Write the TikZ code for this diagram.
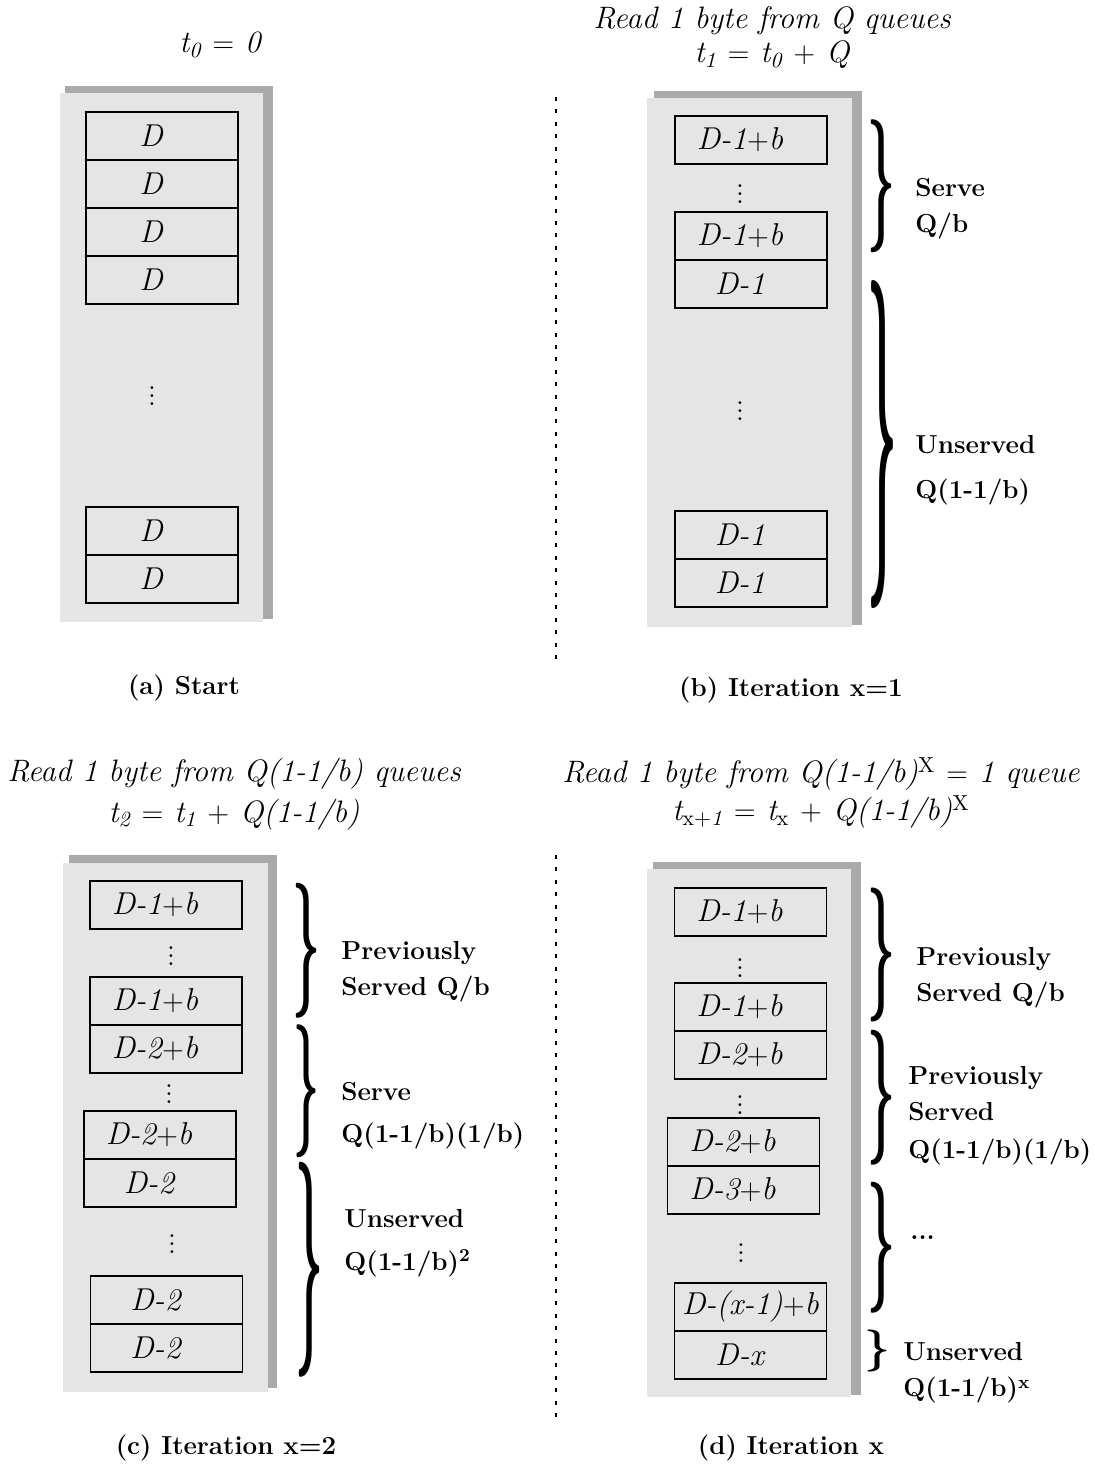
\documentclass[tikz,border=0pt]{standalone}
\usepackage{graphicx}
\usetikzlibrary{positioning}
\definecolor{panelfill}{HTML}{E5E5E5}
\definecolor{panelshade}{HTML}{AAAAAA}
\tikzset{
  panel/.style={fill=panelfill},
  shade/.style={fill=panelshade},
  celltext/.style={inner sep=0pt, font=\itshape\fontsize{15.8}{19}\selectfont},
  cell/.style={draw, line width=0.8pt, minimum width=76pt, minimum height=24pt,
    inner sep=0pt, outer sep=0pt, label={[celltext, xshift=-5.5pt]center:#1}},
  widecell/.style={draw, line width=0.8pt, minimum width=76pt, minimum height=24pt,
    inner sep=0pt, outer sep=0pt, label={[celltext]center:#1}},
  dots/.style={inner sep=0pt, font=\fontsize{14.4}{17}\selectfont},
  curly/.style 2 args={inner sep=0pt, node contents={\resizebox*{#1}{#2}{\boldmath$\}$}}},
  note/.style={anchor=west, align=left, inner sep=0pt, font=\bfseries\fontsize{13}{18}\selectfont},
  heading/.style={align=center, inner sep=0pt, font=\itshape\fontsize{15.5}{17}\selectfont},
  subcap/.style={inner sep=0pt, font=\bfseries\fontsize{13}{15}\selectfont},
  divider/.style={line width=0.9pt, dash pattern=on 2pt off 4.2pt}
}
\begin{document}
\begin{tikzpicture}[x=0.5pt, y=-0.5pt, node distance=0pt]

    \useasboundingbox (0,0) rectangle (1094,1465);

    % (a) Start
    \node[heading] (ha) at (220,45) {t\textsubscript{0} $=$ 0};
    \fill[shade] (65,86) rectangle (273,619);
    \fill[panel] (60,93) rectangle (263,622);
    \node[cell=D, anchor=north] (a1) at (162,112) {};
    \node[cell=D, below=of a1] (a2) {};
    \node[cell=D, below=of a2] (a3) {};
    \node[cell=D, below=of a3] (a4) {};
    \node[dots] (adots) at (152,390) {$\vdots$};
    \node[cell=D, anchor=north] (a5) at (162,507) {};
    \node[cell=D, below=of a5] (a6) {};
    \node[subcap] (capa) at (184,688) {(a) Start};

    % (b) Iteration x=1
    \node[heading] (hb) at (772,38) {Read 1 byte from Q queues\\t\textsubscript{1} $=$ t\textsubscript{0} $+$ Q};
    \fill[shade] (654,91) rectangle (862,625);
    \fill[panel] (647,98) rectangle (852,627);
    \node[cell={D-1$+$b}, anchor=north] (b1) at (751,116) {};
    \node[dots] (bdots1) at (740,188) {$\vdots$};
    \node[cell={D-1$+$b}, anchor=north] (b2) at (751,212) {};
    \node[cell={D-1}, below=of b2] (b3) {};
    \node[dots] (bdots2) at (740,405) {$\vdots$};
    \node[cell={D-1}, anchor=north] (b4) at (751,511) {};
    \node[cell={D-1}, below=of b4] (b5) {};
    \node (bserve) at (881,186.5) [curly={14pt}{66.5pt}];
    \node (bunserved) at (882,444) [curly={15pt}{164pt}];
    \node[note] (nserve) at (915,208.5) {Serve\\Q/b};
    \node[note] (nunserved) at (915,470) {Unserved\\[4.5pt]Q(1-1/b)};
    \node[subcap] (capb) at (791,690) {(b) Iteration x=1};

    % dividers
    \coordinate (dtop1) at (556,97);
    \coordinate (dbot1) at (556,663);
    \coordinate (dtop2) at (556,855);
    \coordinate (dbot2) at (556,1425);
    \draw[divider] (dtop1) -- (dbot1);
    \draw[divider] (dtop2) -- (dbot2);

    % (c) Iteration x=2
    \node[heading] (hc) at (234,794) {Read 1 byte from Q(1-1/b) queues\\[3.5pt]t\textsubscript{2} $=$ t\textsubscript{1} $+$ Q(1-1/b)};
    \fill[shade] (69,855) rectangle (277,1388);
    \fill[panel] (63,863) rectangle (268,1392);
    \node[cell={D-1$+$b}, anchor=north] (c1) at (166,881) {};
    \node[dots] (cdots1) at (171,950) {$\vdots$};
    \node[cell={D-1$+$b}, anchor=north] (c2) at (166,977) {};
    \node[cell={D-2$+$b}, below=of c2] (c3) {};
    \node[dots] (cdots2) at (169,1088) {$\vdots$};
    \node[cell={D-2$+$b}, anchor=north] (c4) at (160,1111) {};
    \node[cell={D-2}, below=of c4] (c5) {};
    \node[dots] (cdots3) at (172,1238) {$\vdots$};
    \node[cell={D-2}, anchor=north] (c6) at (166.5,1276) {};
    \node[cell={D-2}, below=of c6] (c7) {};
    \node (cprev) at (306,950.5) [curly={14pt}{67.5pt}];
    \node (cserve) at (306,1091.5) [curly={13pt}{66.5pt}];
    \node (cunserved) at (309,1269.5) [curly={14pt}{107.5pt}];
    \node[note] (nprevc) at (341,972) {Previously\\Served Q/b};
    \node[note] (nservec) at (341,1116) {Serve\\[3pt]Q(1-1/b)(1/b)};
    \node[note] (nunservedc) at (344,1243) {Unserved\\[3.5pt]Q(1-1/b)\textsuperscript{2}};
    \node[subcap] (capc) at (226,1448) {(c) Iteration x=2};

    % (d) Iteration x
    \node[heading] (hd) at (821,793) {Read 1 byte from Q(1-1/b)\textsuperscript{\upshape X} $=$ 1 queue\\[2pt]t\textsubscript{{\upshape x}$+$1} $=$ t\textsubscript{\upshape x} $+$ Q(1-1/b)\textsuperscript{\upshape X}};
    \fill[shade] (653,862) rectangle (861,1395);
    \fill[panel] (647,869) rectangle (851,1397);
    \node[cell={D-1$+$b}, anchor=north] (d1) at (750.5,888) {};
    \node[dots] (ddots1) at (740,962) {$\vdots$};
    \node[cell={D-1$+$b}, anchor=north] (d2) at (750.5,983) {};
    \node[cell={D-2$+$b}, below=of d2] (d3) {};
    \node[dots] (ddots2) at (740,1099) {$\vdots$};
    \node[cell={D-2$+$b}, anchor=north] (d4) at (743.5,1118) {};
    \node[cell={D-3$+$b}, below=of d4] (d5) {};
    \node[dots] (ddots3) at (741,1247) {$\vdots$};
    \node[widecell={D-(x-1)$+$b}, anchor=north] (d6) at (750.5,1283) {};
    \node[cell={D-x}, below=of d6] (d7) {};
    \node (dprev) at (881,955) [curly={14pt}{67pt}];
    \node (dprev2) at (881,1097.5) [curly={14pt}{67.5pt}];
    \node (dmore) at (881,1247.5) [curly={14pt}{65.5pt}];
    \node (dunserved) at (877,1351) [curly={13pt}{21pt}];
    \node[note] (nprevd) at (916,978) {Previously\\Served Q/b};
    \node[note] (nprevd2) at (908,1116) {Previously\\Served\\[1pt]Q(1-1/b)(1/b)};
    \node[note] (nmore) at (910,1238) {...};
    \node[note] (nunservedd) at (903,1373) {Unserved\\Q(1-1/b)\textsuperscript{x}};
    \node[subcap] (capd) at (791,1448) {(d) Iteration x};

\end{tikzpicture}
\end{document}
